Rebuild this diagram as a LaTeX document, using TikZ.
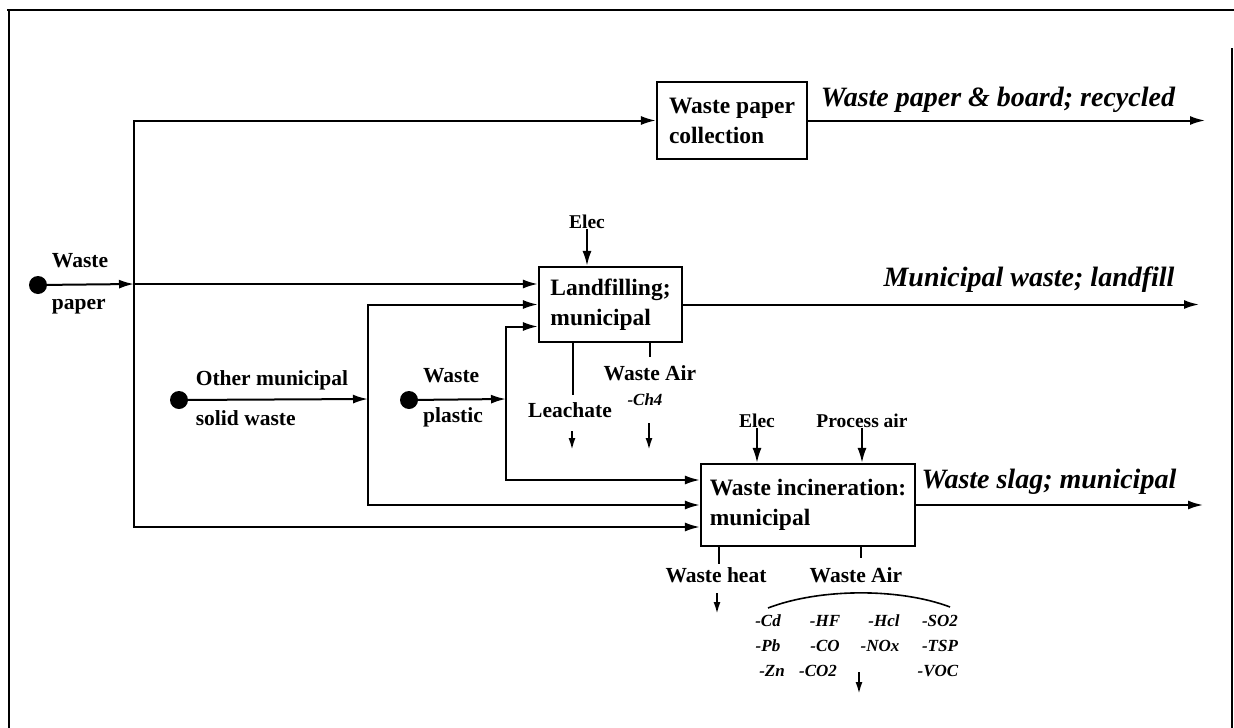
\documentclass[tikz,border=0pt]{standalone}
\usepackage{fontspec}
\setmainfont{Liberation Serif}
\usetikzlibrary{arrows.meta}
\tikzset{
  proc/.style={draw, line width=2.2pt, align=left, inner sep=0pt,
    font=\fontsize{23.5}{30}\selectfont\bfseries},
  lbl/.style={inner sep=0pt, align=left, font=\fontsize{21.5}{24}\selectfont\bfseries},
  sml/.style={inner sep=0pt, font=\fontsize{19.5}{22}\selectfont\bfseries},
  outlbl/.style={inner sep=0pt, font=\fontsize{28}{32}\selectfont\bfseries\itshape},
  gas/.style={inner sep=0pt, font=\fontsize{17}{20}\selectfont\bfseries\itshape},
  flow/.style={line width=2pt, -{Latex[length=15pt,width=9pt]}},
  drop/.style={line width=2pt, -{Latex[length=12pt,width=7pt]}},
  link/.style={line width=2pt},
  src/.style={circle, fill, minimum size=18pt, inner sep=0pt}
}
\begin{document}
\begin{tikzpicture}[x=1pt, y=-1pt]
    \useasboundingbox (0,0) rectangle (1234,728);
    \draw [line width=2.5pt] (7,10) -- (1234,10);
    \draw [line width=2pt] (9,10) -- (9,728);
    \draw [line width=1.2pt] (1232,48) -- (1232,728);
    % process boxes
    \node [proc, minimum width=150, minimum height=77] (coll) at (732,120.5) {Waste paper\\collection};
    \node [proc, minimum width=143, minimum height=75] (landf) at (610.5,304.5) {Landfilling;\\municipal};
    \node [proc, minimum width=214, minimum height=82] (incin) at (808,505) {Waste incineration:\\municipal};
    % sources
    \node [src] (wpaper) at (38,285) {};
    \node [lbl, font=\fontsize{21.5}{42}\selectfont\bfseries] (wpaperlbl) at (80,284) {Waste\\paper};
    \node [src] (omsw) at (179,400) {};
    \node [lbl, font=\fontsize{21.5}{40}\selectfont\bfseries] (omswlbl) at (272,398) {Other municipal\\solid waste};
    \node [src] (wplast) at (409,400) {};
    \node [lbl, font=\fontsize{21.5}{40}\selectfont\bfseries] (wplastlbl) at (453,398) {Waste\\plastic};
    \coordinate (wpj) at (134,284);
    \coordinate (omj) at (368,399);
    \coordinate (wlj) at (506,399);
    \draw [flow] (wpaper) -- (wpj);
    \draw [flow] (omsw) -- (omj);
    \draw [flow] (wplast) -- (wlj);
    \draw [flow] (wpj) |- (coll.west);
    \draw [flow] (wpj) -- (wpj -| landf.west);
    \draw [flow] (wpj) |- ([yshift=-22pt]incin.west);
    \draw [flow] (omj) |- (landf.west);
    \draw [flow] (omj) |- (incin.west);
    \draw [flow] (wlj) |- ([yshift=-22pt]landf.west);
    \draw [flow] (wlj) |- ([yshift=25pt]incin.west);
    % products
    \coordinate (collout) at (1205,120.5);
    \coordinate (landfout) at (1199,304.5);
    \coordinate (incinout) at (1203,505);
    \draw [flow] (coll.east) -- (collout);
    \draw [flow] (landf.east) -- (landfout);
    \draw [flow] (incin.east) -- (incinout);
    \node [outlbl] (colltxt) at (998,100) {Waste paper \& board; recycled};
    \node [outlbl] (landftxt) at (1029,280) {Municipal waste; landfill};
    \node [outlbl] (incintxt) at (1049,482) {Waste slag; municipal};
    % landfill in and out
    \node [sml] (elec1) at (587,222) {Elec};
    \draw [flow] (elec1.south) -- (elec1.south |- landf.north);
    \coordinate (leachtop) at (573,342);
    \coordinate (leachend) at (573,395);
    \draw [link] (leachtop) -- (leachend);
    \node [lbl] (leach) at (570,410) {Leachate};
    \coordinate (leach1) at (572,431);
    \coordinate (leach2) at (572,450);
    \draw [drop] (leach1) -- (leach2);
    \coordinate (lfairtop) at (650,342);
    \coordinate (lfairend) at (650,357);
    \draw [link] (lfairtop) -- (lfairend);
    \node [lbl] (lfair) at (650,373) {Waste Air};
    \node [gas] (ch4) at (645,400) {-Ch4};
    \coordinate (ch41) at (649,423);
    \coordinate (ch42) at (649,450);
    \draw [drop] (ch41) -- (ch42);
    % incineration in and out
    \node [sml] (elec2) at (757,421) {Elec};
    \node [sml] (pair) at (862,421) {Process air};
    \draw [flow] (elec2.south) -- (elec2.south |- incin.north);
    \draw [flow] (pair.south) -- (pair.south |- incin.north);
    \coordinate (heattop) at (719,546);
    \coordinate (heatend) at (719,564);
    \draw [link] (heattop) -- (heatend);
    \node [lbl] (heat) at (716,575) {Waste heat};
    \coordinate (heat1) at (717,593);
    \coordinate (heat2) at (717,614);
    \draw [drop] (heat1) -- (heat2);
    \coordinate (incairtop) at (861,546);
    \coordinate (incairend) at (861,558);
    \draw [link] (incairtop) -- (incairend);
    \node [lbl] (incair) at (856,575) {Waste Air};
    \coordinate (arcl) at (768,608);
    \coordinate (arcr) at (950,607);
    \draw [line width=1.6pt] (arcl) .. controls (820,588) and (900,588) .. (arcr);
    \node [gas] (cd) at (768,621) {-Cd};
    \node [gas] (hf) at (825,621) {-HF};
    \node [gas] (hcl) at (884,621) {-Hcl};
    \node [gas] (so2) at (940,621) {-SO2};
    \node [gas] (pb) at (768,646) {-Pb};
    \node [gas] (co) at (825,646) {-CO};
    \node [gas] (nox) at (880,646) {-NOx};
    \node [gas] (tsp) at (940,646) {-TSP};
    \node [gas] (zn) at (772,671) {-Zn};
    \node [gas] (co2) at (818,671) {-CO2};
    \node [gas] (voc) at (938,671) {-VOC};
    \coordinate (gas1) at (859,672);
    \coordinate (gas2) at (859,694);
    \draw [drop] (gas1) -- (gas2);
\end{tikzpicture}
\end{document}
